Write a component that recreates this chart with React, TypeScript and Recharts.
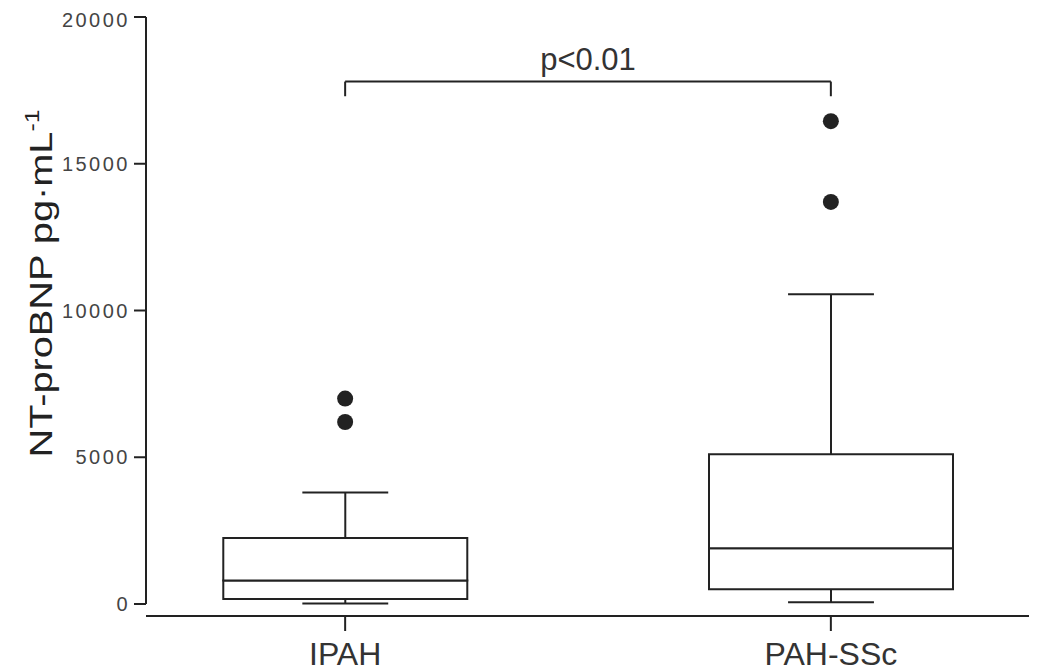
import { ComposedChart, Bar, Scatter, XAxis, YAxis, ReferenceLine } from 'recharts'

// groups and box statistics
const groups = ['IPAH', 'PAH-SSc']
const positions = [1, 2]
const minValues = [20, 60]
const q1Values = [170, 500]
const medianValues = [800, 1900]
const q3Values = [2250, 5100]
const maxValues = [3800, 10550]

const outlierPos = [1, 1, 2, 2]
const outlierValues = [7000, 6200, 16450, 13700]

const yTicks = [0, 5000, 10000, 15000, 20000]
const pLabel = 'p<0.01'
const bracketTop = 17800
const bracketFoot = 17300

const ink = '#222'
const font = '"Liberation Sans", Arial, sans-serif'

const data = groups.map((name, i) => ({
  name,
  pos: positions[i],
  base: minValues[i],
  lowWhisker: q1Values[i] - minValues[i],
  lowBox: medianValues[i] - q1Values[i],
  highBox: q3Values[i] - medianValues[i],
  highWhisker: maxValues[i] - q3Values[i],
}))

const outliers = outlierValues.map((v, i) => ({ pos: outlierPos[i], v }))

const LowWhisker = (p: any) => {
  const cx = p.x + p.width / 2
  const cap = p.width * 0.176
  const bottom = p.y + p.height
  return (
    <g stroke={ink} strokeWidth={2}>
      <line x1={cx} x2={cx} y1={p.y} y2={bottom} />
      <line x1={cx - cap} x2={cx + cap} y1={bottom} y2={bottom} />
    </g>
  )
}

const HighWhisker = (p: any) => {
  const cx = p.x + p.width / 2
  const cap = p.width * 0.176
  return (
    <g stroke={ink} strokeWidth={2}>
      <line x1={cx} x2={cx} y1={p.y} y2={p.y + p.height} />
      <line x1={cx - cap} x2={cx + cap} y1={p.y} y2={p.y} />
    </g>
  )
}

const GroupTick = (p: any) => {
  const label = groups[positions.indexOf(p.payload.value)]
  return (
    <g>
      <line x1={p.x} x2={p.x} y1={p.y + 12} y2={p.y + 27} stroke={ink} strokeWidth={2} />
      <text x={p.x} y={p.y + 61} textAnchor="middle" fontSize={32} fill="#333" fontFamily={font}>
        {label}
      </text>
    </g>
  )
}

const YLabel = (p: any) => {
  const vb = p.viewBox
  const x = vb.x + 44
  const y = vb.y + vb.height / 2 - 27
  return (
    <text
      x={x}
      y={y}
      transform={`rotate(-90, ${x}, ${y})`}
      textAnchor="middle"
      fontSize={32}
      fill={ink}
      fontFamily={font}
      textLength={348}
      lengthAdjust="spacingAndGlyphs"
    >
      NT-proBNP pg·mL<tspan dy={-13} fontSize={20}>-1</tspan>
    </text>
  )
}

export default function App() {
  return (
    <ComposedChart
      width={1029}
      height={663}
      data={data}
      margin={{ top: 9, right: 7, bottom: 0, left: 0 }}
    >
      <XAxis
        dataKey="pos"
        type="number"
        domain={[0.59, 2.41]}
        ticks={positions}
        axisLine={false}
        tickLine={false}
        tickSize={0}
        tickMargin={0}
        height={67}
        tick={<GroupTick />}
      />
      <YAxis
        type="number"
        domain={[0, 20000]}
        ticks={yTicks}
        width={138}
        tickSize={12}
        tickMargin={4}
        stroke={ink}
        axisLine={{ stroke: ink, strokeWidth: 2 }}
        tickLine={{ stroke: ink, strokeWidth: 2 }}
        tick={{ fill: '#444', fontSize: 20, fontFamily: font, letterSpacing: 2.5 }}
        label={{ content: <YLabel /> }}
      />
      <ReferenceLine y={-410} ifOverflow="visible" stroke={ink} strokeWidth={2} />
      <Bar dataKey="base" stackId="box" fill="transparent" barSize={244} isAnimationActive={false} />
      <Bar dataKey="lowWhisker" stackId="box" barSize={244} shape={<LowWhisker />} isAnimationActive={false} />
      <Bar dataKey="lowBox" stackId="box" barSize={244} fill="#fff" stroke={ink} strokeWidth={2} isAnimationActive={false} />
      <Bar dataKey="highBox" stackId="box" barSize={244} fill="#fff" stroke={ink} strokeWidth={2} isAnimationActive={false} />
      <Bar dataKey="highWhisker" stackId="box" barSize={244} shape={<HighWhisker />} isAnimationActive={false} />
      <Scatter
        data={outliers}
        dataKey="v"
        fill={ink}
        isAnimationActive={false}
        shape={(p: any) => <circle cx={p.cx} cy={p.cy} r={8} fill={ink} />}
      />
      <ReferenceLine
        segment={[{ x: 1, y: bracketTop }, { x: 2, y: bracketTop }]}
        stroke={ink}
        strokeWidth={2}
        label={{ value: pLabel, position: 'top', offset: 12, fontSize: 31, fill: '#333', fontFamily: font }}
      />
      <ReferenceLine segment={[{ x: 1, y: bracketTop }, { x: 1, y: bracketFoot }]} stroke={ink} strokeWidth={2} />
      <ReferenceLine segment={[{ x: 2, y: bracketTop }, { x: 2, y: bracketFoot }]} stroke={ink} strokeWidth={2} />
    </ComposedChart>
  )
}
